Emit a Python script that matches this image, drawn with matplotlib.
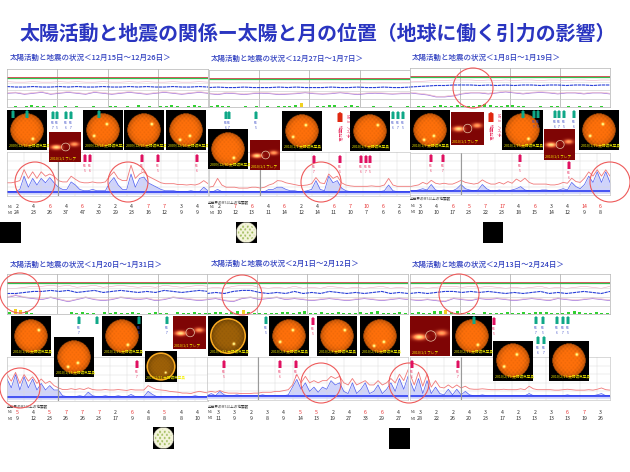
import numpy as np
import matplotlib
matplotlib.use('Agg')
import matplotlib.pyplot as plt
from matplotlib.patches import Circle, FancyArrow

plt.rcParams['font.family'] = ['Noto Sans CJK JP', 'DejaVu Sans']

W, H = 630, 472
TITLE = '太陽活動と地震の関係ー太陽と月の位置（地球に働く引力の影響）'
SUBTITLES = ['太陽活動と地震の状況＜12月15日～12月26日＞', '太陽活動と地震の状況＜12月27日～1月7日＞',
             '太陽活動と地震の状況＜1月8日～1月19日＞', '太陽活動と地震の状況＜1月20日～1月31日＞',
             '太陽活動と地震の状況＜2月1日～2月12日＞', '太陽活動と地震の状況＜2月13日～2月24日＞']

# x-ray flux (level 0 bottom, 10 top)
blue1 = [1, 1, 1, 1.5, 4.5, 2, 4, 2.5, 4, 3, 4.2, 3, 2, 1.5, 1.5, 3.2, 2.5, 1.5, 1.2, 1.2, 1.5, 1.2, 1.2, 1.2, 3, 4.2, 2.5, 1.5, 1.5, 5, 2, 4, 4.3, 3, 2.5, 2, 1.5, 1.2, 1.2, 1.2, 1, 1, 1, 1.2, 1, 1, 2, 1.2]
red1 = [3, 3, 3.2, 3.5, 6, 4, 5.5, 4, 5.5, 4.5, 5, 4.5, 3.5, 3.2, 3.2, 4.5, 3.8, 3.2, 3, 3, 3.2, 3, 3, 3.2, 4.5, 5.5, 4, 3.5, 3.5, 7, 4, 5, 5.5, 4.5, 4, 3.5, 3, 2.8, 2.8, 2.8, 2.6, 2.6, 2.5, 2.6, 2.5, 2.8, 3.5, 2.8]
blue2 = [1, 1, 1.5, 1, 1, 1, 1, 1, 1, 1, 1, 1, 1, 1, 1.5, 1.5, 2, 2, 1.5, 1.2, 1.2, 1, 1, 1.2, 1.5, 3.5, 1.5, 1.2, 4.5, 3, 3.5, 1.8, 1.2, 1, 1, 1, 1, 1, 1, 1, 1, 1.2, 2.5, 1.2, 1, 1, 1, 1]
red2 = [2, 2.2, 4, 2.5, 2, 2, 2, 1.8, 1.8, 1.8, 2, 2, 1.8, 2, 2.5, 2.8, 3.5, 3.4, 3, 2.8, 2.6, 2.4, 2.4, 2.5, 2.8, 4.2, 3, 2.8, 5, 4, 4.5, 3, 2.5, 2.3, 2.2, 2.2, 2.2, 2.2, 2.3, 2.2, 2.2, 2.5, 4, 2.5, 2.2, 2.2, 2.2, 2.2]
blue3 = [1, 1, 1.2, 1.5, 1.2, 2.5, 1.2, 1, 1.2, 1, 1, 1.5, 2.5, 1.5, 1.2, 1, 1.2, 2.5, 1.5, 1, 1, 1.2, 1, 1, 1.2, 1.5, 2, 1.2, 1, 1, 1, 1.2, 1.2, 1, 1, 1.2, 1.5, 1.2, 3, 2, 1.5, 2.5, 4.5, 3, 5.5, 3, 5.5, 3]
red3 = [2, 2.2, 2.4, 3, 2.6, 3.5, 2.8, 2.6, 2.8, 2.6, 2.6, 3, 3.5, 3, 2.8, 2.6, 2.8, 3.6, 3, 2.6, 2.6, 3, 2.6, 3.2, 2.8, 3.8, 3.2, 4, 3, 2.6, 2.6, 2.6, 2.6, 2.4, 2.4, 2.6, 3, 2.8, 4, 3.2, 3, 4, 5.5, 4.5, 6, 4.5, 6, 4.5]
blue4 = [5, 3, 6, 2.5, 5.5, 3, 5, 2.5, 4, 2.5, 3.5, 2.5, 2.5, 1.2, 1, 1, 1, 1.2, 1, 2, 1.2, 1, 1, 1.2, 1, 1, 1.2, 1, 1, 1.5, 1, 1, 1, 2.2, 1.5, 1, 1, 1, 1, 1, 1, 1, 1, 1, 1.2, 1, 1, 1]
red4 = [6, 4.5, 6.5, 4, 6, 4.5, 5.5, 4, 5, 4, 4.5, 3.5, 3, 2.6, 2.6, 2.8, 2.6, 2.8, 2.6, 3, 2.6, 2.5, 2.5, 2.6, 2.5, 2.5, 2.6, 2.5, 2.4, 2.6, 2.5, 2.5, 2.5, 3.5, 3, 2.6, 2.5, 2.4, 2.2, 2.1, 2, 1.8, 1.8, 1.7, 2, 2.2, 2, 1.8]
blue5 = [1, 1.5, 1, 2, 1.2, 1, 1, 1.2, 1, 1, 1, 1, 1, 1.2, 1, 1, 1, 1, 1, 1.2, 3, 4.8, 2.5, 4, 2, 3, 1.8, 3, 2.5, 4.5, 3.5, 4, 2, 1.5, 4, 1.5, 2.5, 4, 1.5, 2, 3.5, 1.5, 2.5, 4, 2, 5, 2.5, 5.5]
red5 = [1.8, 2, 1.8, 2.2, 1.8, 1.6, 1.6, 1.6, 1.5, 1.5, 1.5, 1.6, 1.6, 1.8, 1.8, 1.8, 2, 2, 2.2, 2.4, 3.5, 6, 4, 5.5, 4, 4.5, 4, 4.5, 4.5, 5.5, 5, 5.5, 4, 3.5, 5, 3.5, 4, 4.5, 3.5, 3.5, 4.5, 3.5, 4, 5, 4, 6, 4.5, 7]
blue6 = [4.5, 2, 5, 1.5, 4.5, 1.5, 3, 1.5, 1.2, 2.5, 1.2, 2.5, 1.2, 2, 1.2, 1, 1, 1.2, 1, 1, 1, 1, 1, 1, 1, 1, 1, 1, 1.5, 1, 1, 1, 1, 1, 1, 1, 1, 1.2, 1, 1, 1, 1, 1, 1, 1.2, 1.5, 1, 1]
red6 = [6, 3.5, 6.5, 3.2, 6, 3, 4.5, 3, 2.8, 3.5, 2.8, 3.5, 2.8, 3.2, 2.6, 2.5, 2.5, 2.6, 2.5, 2.4, 2.4, 2.4, 2.5, 2.4, 2.4, 2.4, 2.6, 2.4, 3.2, 2.6, 2.4, 2.4, 2.4, 2.4, 2.3, 2.3, 2.4, 2.5, 2.4, 2.3, 2.3, 2.3, 2.4, 2.3, 2.5, 2.8, 2.4, 2.3]

# solar wind / magnetic field wobble, upper strips
wave1 = [14, 14.5, 13, 14, 15, 13, 14, 15, 14, 13, 15, 14, 13, 14, 15, 14, 13, 14, 15, 14, 13, 14, 15, 14]
wave2 = [14, 13, 14.5, 14, 13, 14, 14.5, 14, 13, 13.5, 14, 15, 14, 13.5, 14, 15, 14, 13, 14, 14.5, 14, 13.5, 14, 14]
wave3 = [14, 13, 12, 10, 10, 11, 13, 14, 14, 13, 14, 15, 14, 13, 14, 14.5, 14, 13, 14, 14, 13, 14, 14, 13]
wave4 = [16, 18, 16, 15, 14, 16, 14, 12, 14, 16, 14, 13, 14, 16, 15, 14, 15, 13, 14, 16, 15, 14, 13, 14]
wave5 = [14, 15, 13, 12, 15, 16, 14, 15, 16, 14, 15, 14, 13, 14, 15, 14, 13, 14, 15, 14, 13, 14, 15, 14]
wave6 = [14, 13, 14, 13, 12, 15, 14, 13, 15, 14, 15, 14, 13, 14, 15, 14, 13, 15, 14, 13, 14, 15, 14, 13]
mag1 = [21, 20.5, 20.5, 21, 20.5, 20.5, 21, 20.5, 21, 20.5, 20.5, 21, 20.5, 20.5, 21, 20.5, 21, 20.5, 20.5, 21, 20.5, 20.5, 21, 20.5]
mag2 = [20.5, 21, 20.5, 20.5, 21, 20.5, 20.5, 20.5, 21, 20.5, 21, 20.5, 20.5, 20.5, 21, 20.5, 20.5, 21, 20.5, 20.5, 21, 20.5, 20.5, 21]
mag3 = [20, 20.5, 21, 21.5, 21.5, 22, 22, 22, 21.5, 22, 21.5, 22, 21.5, 22, 22, 21.5, 22, 22, 21.5, 22, 22, 21.5, 22, 22]
mag4 = [20, 20, 21, 22, 22, 23, 22, 23, 21, 22, 23, 21, 22, 23, 22, 21, 22, 21, 23, 22, 21, 22, 23, 22]
mag5 = [20, 21, 20, 22, 23, 23, 21, 20, 21, 20, 22, 20, 21, 20, 22, 21, 20, 21, 20, 21, 22, 20, 21, 20]
mag6 = [20, 21, 20, 21, 22, 22, 21, 22, 21, 22, 21, 20, 21, 20, 21, 22, 20, 21, 20, 21, 22, 21, 20, 22]
# Kp bars, 3 per day
kp1 = [0, 1, 0, 1, 2, 1, 1, 0, 1, 0, 1, 0, 1, 0, 0, 1, 0, 0, 1, 1, 0, 1, 0, 2, 0, 1, 0, 1, 1, 2, 1, 0, 1, 2, 1, 0]
kp2 = [1, 2, 1, 1, 0, 0, 1, 0, 1, 0, 1, 0, 1, 1, 1, 2, 4, 0, 0, 1, 1, 2, 2, 0, 1, 2, 1, 0, 0, 1, 0, 0, 1, 0, 0, 1]
kp3 = [0, 1, 1, 0, 1, 2, 1, 1, 2, 1, 1, 1, 2, 3, 2, 1, 1, 2, 2, 1, 1, 0, 0, 1, 0, 1, 1, 0, 1, 0, 1, 0, 1, 0, 1, 0]
kp4 = [2, 5, 4, 3, 1, 0, 0, 0, 0, 0, 0, 2, 1, 2, 1, 1, 0, 2, 1, 2, 1, 1, 2, 1, 0, 1, 2, 1, 1, 0, 2, 1, 1, 2, 1, 1]
kp5 = [1, 2, 2, 1, 2, 3, 4, 2, 1, 1, 1, 1, 1, 2, 2, 1, 2, 3, 1, 1, 2, 1, 1, 2, 1, 1, 1, 2, 1, 2, 3, 1, 1, 1, 2, 1]
kp6 = [1, 2, 1, 1, 3, 3, 4, 2, 3, 1, 1, 1, 0, 2, 1, 1, 1, 2, 1, 1, 2, 1, 2, 2, 2, 1, 1, 1, 2, 3, 2, 1, 1, 2, 1, 1]

# earthquake counts under each strip
quakes1 = [2, 4, 6, 4, 6, 2, 2, 4, 7, 7, 3, 4]
totals1 = [24, 23, 26, 37, 47, 30, 29, 23, 16, 12, 9, 9]
quakes2 = [2, 7, 6, 4, 6, 2, 4, 6, 7, 10, 6, 2]
totals2 = [10, 12, 13, 11, 14, 12, 14, 11, 10, 7, 6, 6]
quakes3 = [3, 4, 6, 5, 7, 17, 4, 6, 3, 4, 14, 6]
totals3 = [10, 10, 17, 23, 22, 23, 18, 15, 14, 12, 9, 8]
quakes4 = [5, 4, 5, 7, 7, 7, 2, 6, 4, 5, 4, 4]
totals4 = [9, 12, 23, 26, 26, 23, 17, 9, 8, 8, 8, 10]
quakes5 = [3, 3, 2, 3, 4, 5, 5, 2, 4, 6, 6, 4]
totals5 = [11, 9, 9, 8, 9, 14, 13, 19, 27, 33, 29, 27]
quakes6 = [3, 2, 2, 4, 3, 4, 2, 2, 3, 6, 7, 3]
totals6 = [28, 22, 26, 20, 23, 17, 13, 13, 13, 13, 19, 26]

BLUES = [blue1, blue2, blue3, blue4, blue5, blue6]
REDS = [red1, red2, red3, red4, red5, red6]
WAVES = [wave1, wave2, wave3, wave4, wave5, wave6]
MAGS = [mag1, mag2, mag3, mag4, mag5, mag6]
KPS = [kp1, kp2, kp3, kp4, kp5, kp6]
QUAKES = [quakes1, quakes2, quakes3, quakes4, quakes5, quakes6]
TOTALS = [totals1, totals2, totals3, totals4, totals5, totals6]

# layout, pixels from top left
SUB_POS = [(10, 58), (211, 59), (412, 58), (10, 265), (211, 264), (412, 265)]
UPPER = [(7, 69, 208, 107), (209, 70, 410, 107), (410, 68, 610, 107),
         (7, 274, 208, 314), (207, 274, 408, 314), (410, 274, 610, 314)]
LOWER = [(7, 152, 208, 196), (209, 152, 410, 196), (410, 153, 610, 195),
         (7, 357, 208, 401), (207, 357, 408, 400), (410, 357, 610, 400)]
ROW_Y = [(207, 213), (207, 213), (206, 212), (412, 419), (412, 418), (412, 419)]
ROW_X0 = [17, 219, 420, 17, 218, 420]
CAPTIONS = [(208, 203), (410, 199), (7, 407), (208, 407)]
SUNS = [(7, 110, '2009/12/19'), (83, 110, '2009/12/24'), (124, 110, '2009/12/25'), (166, 110, '2009/12/26'),
        (208, 129, '2009/12/30'), (282, 111, '2010/1/1'), (350, 111, '2010/1/5'),
        (410, 110, '2010/1/9'), (502, 110, '2010/1/15'), (579, 110, '2010/1/19'),
        (11, 316, '2010/1/20'), (54, 337, '2010/1/24'), (102, 316, '2010/1/26'),
        (269, 316, '2010/2/4'), (317, 316, '2010/2/8'), (360, 316, '2010/2/12'),
        (452, 316, '2010/2/17'), (493, 341, '2010/2/19'), (549, 341, '2010/2/23')]
FLARES = [(49, 132, 81, 162), (250, 140, 280, 170), (451, 112, 483, 145), (544, 129, 575, 160),
          (173, 316, 206, 349), (410, 316, 450, 356)]
GOLD = [(145, 351, 177, 382), (208, 316, 248, 356)]
MOONS = [(236, 222, 257, 243), (153, 427, 174, 449)]
NEW_MOONS = [(0, 222, 21, 243), (483, 222, 503, 243), (389, 428, 410, 449)]
RINGS = [(35, 182), (128, 182), (321, 182), (473, 88), (610, 182), (20, 293), (20, 388),
         (242, 295), (321, 383), (409, 383), (459, 294)]
TEAL_ARROWS = [(13, 110), (27, 110), (53, 111), (57, 111), (66, 111), (71, 111), (99, 110),
               (226, 111), (229, 111), (256, 111), (393, 111), (398, 111), (403, 111),
               (523, 110), (534, 110), (538, 110), (555, 110), (559, 110), (564, 110), (574, 110),
               (79, 316), (97, 316), (139, 316), (167, 316), (266, 316),
               (474, 316), (536, 316), (543, 316), (557, 316), (563, 316), (568, 316), (538, 336), (544, 336)]
RED_ARROWS = [(85, 154), (90, 154), (142, 154), (158, 154), (197, 154),
              (314, 155), (340, 155), (361, 155), (366, 155), (370, 155),
              (431, 154), (443, 154), (520, 154), (569, 161),
              (137, 360), (224, 360), (280, 360), (296, 360), (313, 317), (412, 360), (458, 360), (494, 317)]
TEXT_RED = '#e83060'
TEXT_BLUE = '#4050c8'

fig = plt.figure(figsize=(W / 100, H / 100), dpi=100, facecolor='white')


def px_axes(x0, y0, x1, y1, zorder=1):
    return fig.add_axes([x0 / W, 1 - y1 / H, (x1 - x0) / W, (y1 - y0) / H], zorder=zorder)


def sun_image(bright, base=(1.0, 0.44, 0.04), n=60):
    # black square with a limb darkened, mottled disc and a few hot spots
    yy, xx = np.mgrid[0:n, 0:n] / (n - 1) * 2 - 1
    r = np.hypot(xx, yy) / 0.84
    mottle = 0.08 * np.sin(xx * 31 + 1) * np.cos(yy * 27)
    shade = np.clip(1.0 - 0.28 * r ** 4 + mottle, 0, 1)
    img = np.zeros((n, n, 3))
    for i in range(3):
        img[..., i] = base[i] * shade
    for sx, sy in bright:
        glow = np.exp(-((xx - sx) ** 2 + (yy - sy) ** 2) / 0.004)
        img[..., 0] = np.clip(img[..., 0] + glow, 0, 1)
        img[..., 1] = np.clip(img[..., 1] + glow, 0, 1)
        img[..., 2] = np.clip(img[..., 2] + glow * 0.7, 0, 1)
    img[r >= 1] = 0
    return img


def flare_image(n=40):
    # dark red coronagraph frame with two bright streamers
    yy, xx = np.mgrid[0:n, 0:n] / (n - 1) * 2 - 1
    glow = np.exp(-((yy - 0.05) ** 2) / 0.02 - (xx + 0.55) ** 2 / 0.1) + 0.7 * np.exp(-((yy + 0.15) ** 2) / 0.02 - (xx - 0.6) ** 2 / 0.08)
    img = np.zeros((n, n, 3))
    img[..., 0] = np.clip(0.5 + glow, 0, 1)
    img[..., 1] = np.clip(0.02 + 0.9 * glow, 0, 1)
    img[..., 2] = np.clip(0.02 + 0.5 * glow, 0, 1)
    return img


def put_image(img, box, caption=None):
    ax = px_axes(*box, zorder=5)
    ax.imshow(img, extent=(0, 1, 0, 1), aspect='auto', interpolation='bilinear')
    ax.set_xlim(0, 1)
    ax.set_ylim(0, 1)
    ax.set_axis_off()
    if caption:
        ax.text(0.04, 0.05, caption, color='#f4f000', fontsize=2.6, transform=ax.transAxes, va='bottom')
    return ax


# page layer for text and arrows
page = fig.add_axes([0, 0, 1, 1], zorder=8)
page.set_xlim(0, W)
page.set_ylim(H, 0)
page.set_axis_off()
page.patch.set_alpha(0)

page.text(318, 33, TITLE, color='#2a35c0', fontsize=14.35, fontweight='bold', ha='center', va='center')
for (x, y), sub in zip(SUB_POS, SUBTITLES):
    page.text(x, y, sub, color='#3040c0', fontsize=5.4, fontweight='medium', va='center')

for i in range(6):
    # upper strip
    ax = px_axes(*UPPER[i])
    ax.set_xlim(0, 12)
    ax.set_ylim(0, 39)
    hours = np.linspace(0, 12, 24)
    ax.axhline(31, color='#e03040', lw=0.6)
    ax.axhline(30, color='#30c050', lw=0.9)
    ax.plot(hours, np.array(MAGS[i]) + 5, color='#e8a8c0', lw=0.4)
    ax.plot(hours, MAGS[i], color='#2a40d8', lw=0.8, ls=(0, (3, 0.6)))
    ax.plot(hours, WAVES[i], color='#a070d8', lw=0.5)
    ax.plot(hours, np.array(WAVES[i]) + 0.8, color='#e8a0b0', lw=0.3)
    kp = np.array(KPS[i])
    ax.bar(np.linspace(0.15, 11.85, 36), kp, width=0.18, color=['#f0d020' if k > 3 else '#30d030' for k in kp])
    ax.axhline(8, color='#c8c8c8', lw=0.5)
    ax.axhline(25, color='#dcdcdc', lw=0.4)
    ax.axhline(17, color='#c8c8c8', lw=0.4)
    ax.set_xticks([3, 6, 9])
    ax.grid(axis='x', color='#a8a8a8', lw=0.5)
    ax.set_yticks([])
    ax.tick_params(length=0, labelbottom=False)
    for s in ax.spines.values():
        s.set_color('#b4b4b4')
        s.set_linewidth(0.5)

    # lower strip
    ax = px_axes(*LOWER[i])
    ax.set_xlim(0, 47)
    ax.set_ylim(0, 10)
    t = np.arange(48)
    ax.plot(t, REDS[i], color='#f07878', lw=0.6)
    ax.fill_between(t, 0.4, BLUES[i], color='#6070f4', alpha=0.3, lw=0)
    ax.plot(t, BLUES[i], color='#5060f0', lw=0.5)
    ax.axhline(1, color='#2030f0', lw=1.1)
    ax.set_yticks([2, 4, 6, 8])
    ax.set_xticks(np.arange(0, 48, 4))
    ax.grid(color='#dadada', lw=0.35)
    ax.tick_params(length=0, labelleft=False, labelbottom=False)
    ax.axvline(12, color='#9a9a9a', lw=0.8)
    for s in ax.spines.values():
        s.set_color('#bcbcbc')
        s.set_linewidth(0.4)

    # quake counts
    y1, y2 = ROW_Y[i]
    page.text(UPPER[i][0] + 1, y1, 'M5', fontsize=2.6, color='#404040', va='center')
    page.text(UPPER[i][0] + 1, y2, 'M4', fontsize=2.6, color='#404040', va='center')
    for d in range(12):
        x = ROW_X0[i] + d * 16.4
        page.text(x, y1, str(QUAKES[i][d]), fontsize=3.8, ha='center', va='center',
                  color='#e83030' if QUAKES[i][d] >= 5 else '#303030')
        page.text(x, y2, str(TOTALS[i][d]), fontsize=3.8, ha='center', va='center', color='#303030')

for (x, y) in CAPTIONS:
    page.text(x, y, '全世界のM5以上の地震数', fontsize=2.6, color='#404040', va='center')

spots = [[(0.3, 0.45)], [(-0.45, 0.3), (0.2, -0.3)], [(0.4, -0.3)], [(-0.3, 0.5), (0.2, 0.3)]]
for n, (x, y, date) in enumerate(SUNS):
    put_image(sun_image(spots[n % 4]), (x, y, x + 40, y + 40), date + ' 太陽磁気写真')

for box in FLARES:
    ax = put_image(flare_image(), box, '2010/1/1 フレア')
    ax.add_patch(Circle((0.52, 0.5), 0.13, fc='none', ec='#e8c8a8', lw=0.5))

for box in GOLD:
    ax = put_image(sun_image([(0.3, 0.4)], base=(0.62, 0.38, 0.03)), box, '2010/1/31 太陽磁気写真')
    ax.add_patch(Circle((0.5, 0.5), 0.43, fc='none', ec='#f8a820', lw=1.2))

for x0, y0, x1, y1 in MOONS:
    n = 40
    yy, xx = np.mgrid[0:n, 0:n] / (n - 1) * 2 - 1
    img = np.zeros((n, n, 3))
    img[np.hypot(xx, yy) < 1] = (0.96, 0.96, 0.86)
    img[(np.hypot(xx, yy) < 0.8) & (np.sin(xx * 14) * np.cos(yy * 11) > 0.4)] = (0.6, 0.72, 0.32)
    put_image(img, (x0, y0, x1, y1))

for box in NEW_MOONS:
    put_image(np.zeros((2, 2, 3)), box)

for x, y in RINGS:
    page.add_patch(Circle((x, y), 20, fc='none', ec='#ee5a5a', lw=0.8, zorder=6))


def arrow(x, y, color, ln=8, wd=3):
    page.add_patch(FancyArrow(x, y + ln, 0, -ln, width=wd, head_width=wd + 1, head_length=2,
                              length_includes_head=True, color=color, lw=0, zorder=7))


def arrow_label(x, y, k, color):
    # tiny labels, smaller so neighbouring arrows keep their own text
    page.text(x, y + 12, 'M6', fontsize=2.0, color=color, ha='center', va='center')
    page.text(x, y + 17, str(5 + k % 3), fontsize=2.4, color=color, ha='center', va='center')


for k, (x, y) in enumerate(TEAL_ARROWS):
    arrow(x, y, '#10a888')
    if not (x < 30 or 95 < x < 105 or 500 < x < 530 or 470 < x < 480):
        arrow_label(x, y, k, TEXT_BLUE)
for k, (x, y) in enumerate(RED_ARROWS):
    arrow(x, y, '#e01060')
    arrow_label(x, y, k, TEXT_RED)

# big quake markers
for x, ty in [(340, 114), (491, 113)]:
    arrow(x, 112, '#e02810', ln=10, wd=5)
    page.text(x + 7, ty, 'M7.0', fontsize=3, color=TEXT_RED, rotation=-90, ha='center', va='top')
    page.text(x + 7, ty + 12, 'ハイチ', fontsize=3, color=TEXT_RED, rotation=-90, ha='center', va='top')
    page.text(x, ty + 11, '地震発生', fontsize=3, color=TEXT_RED, rotation=-90, ha='center', va='top')

fig.savefig('out.png', dpi=100)
